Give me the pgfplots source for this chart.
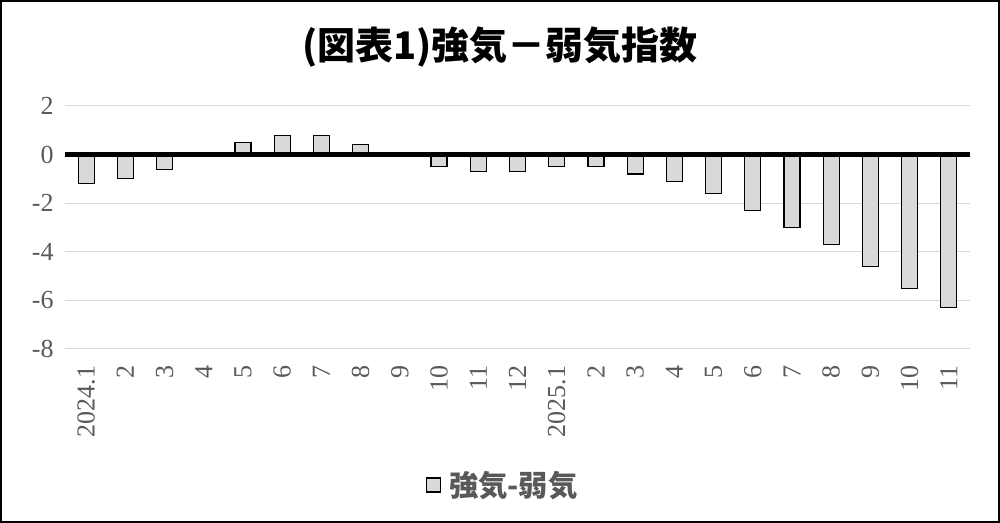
\documentclass[border=0pt]{standalone}
\usepackage{fontspec}
\usepackage{pgfplots}
\pgfplotsset{compat=1.18}
\setmainfont{Liberation Serif}
\newfontfamily\jp{Noto Sans CJK JP}
\definecolor{tickgray}{HTML}{595959}
\definecolor{barfill}{HTML}{D9D9D9}
\definecolor{gridgray}{HTML}{D9D9D9}
\begin{document}
\begin{tikzpicture}
\useasboundingbox (0,0) rectangle (750pt,392.25pt);
\begin{axis}[at={(48.75pt,130.5pt)}, anchor=south west, scale only axis,
  width=678.75pt, height=182.25pt,
  xmin=-0.54, xmax=22.54, ymin=-8, ymax=2,
  ytick={-8,-6,-4,-2,0,2}, yticklabels={-8,-6,-4,-2,0,2},
  xtick={0,...,22},
  xticklabels={2024.1,2,3,4,5,6,7,8,9,10,11,12,2025.1,2,3,4,5,6,7,8,9,10,11},
  ymajorgrids, grid style={gridgray, line width=0.75pt},
  axis line style={draw=none}, major tick length=0pt,
  tick label style={font=\fontsize{19.5}{21}\selectfont, text=tickgray},
  xticklabel style={rotate=90, anchor=east},
  xticklabel shift=9pt, yticklabel shift=5pt,
  ybar, bar width=12pt,
  legend style={at={(0.484,-0.56)}, anchor=center, draw=none,
    font=\jp\bfseries\fontsize{22}{25}\selectfont, text=tickgray},
  legend image code/.code={\draw[#1] (0pt,-5.25pt) rectangle (10.5pt,5.25pt);
    \path[draw=none,fill=none] (0pt,0pt) -- (15pt,0pt);},
  clip=false]
\addplot[fill=barfill, draw=black, line width=0.9pt] coordinates {
(0,-1.2) (1,-1.0) (2,-0.6) (3,0) (4,0.5) (5,0.8) (6,0.8) (7,0.4) (8,0)
(9,-0.5) (10,-0.7) (11,-0.7) (12,-0.5) (13,-0.5) (14,-0.8) (15,-1.1)
(16,-1.6) (17,-2.3) (18,-3.0) (19,-3.7) (20,-4.6) (21,-5.5) (22,-6.3)};
\addlegendentry{強気-弱気}
\draw[line width=4pt] (axis cs:-0.54,0) -- (axis cs:22.54,0);
\end{axis}
\draw[line width=1.5pt] (0.75pt,0.75pt) rectangle (749.25pt,391.5pt);
\node[font=\jp\bfseries\fontsize{28.5}{31}\selectfont] at (375pt,357pt) {(図表1)強気－弱気指数};
\end{tikzpicture}
\end{document}
